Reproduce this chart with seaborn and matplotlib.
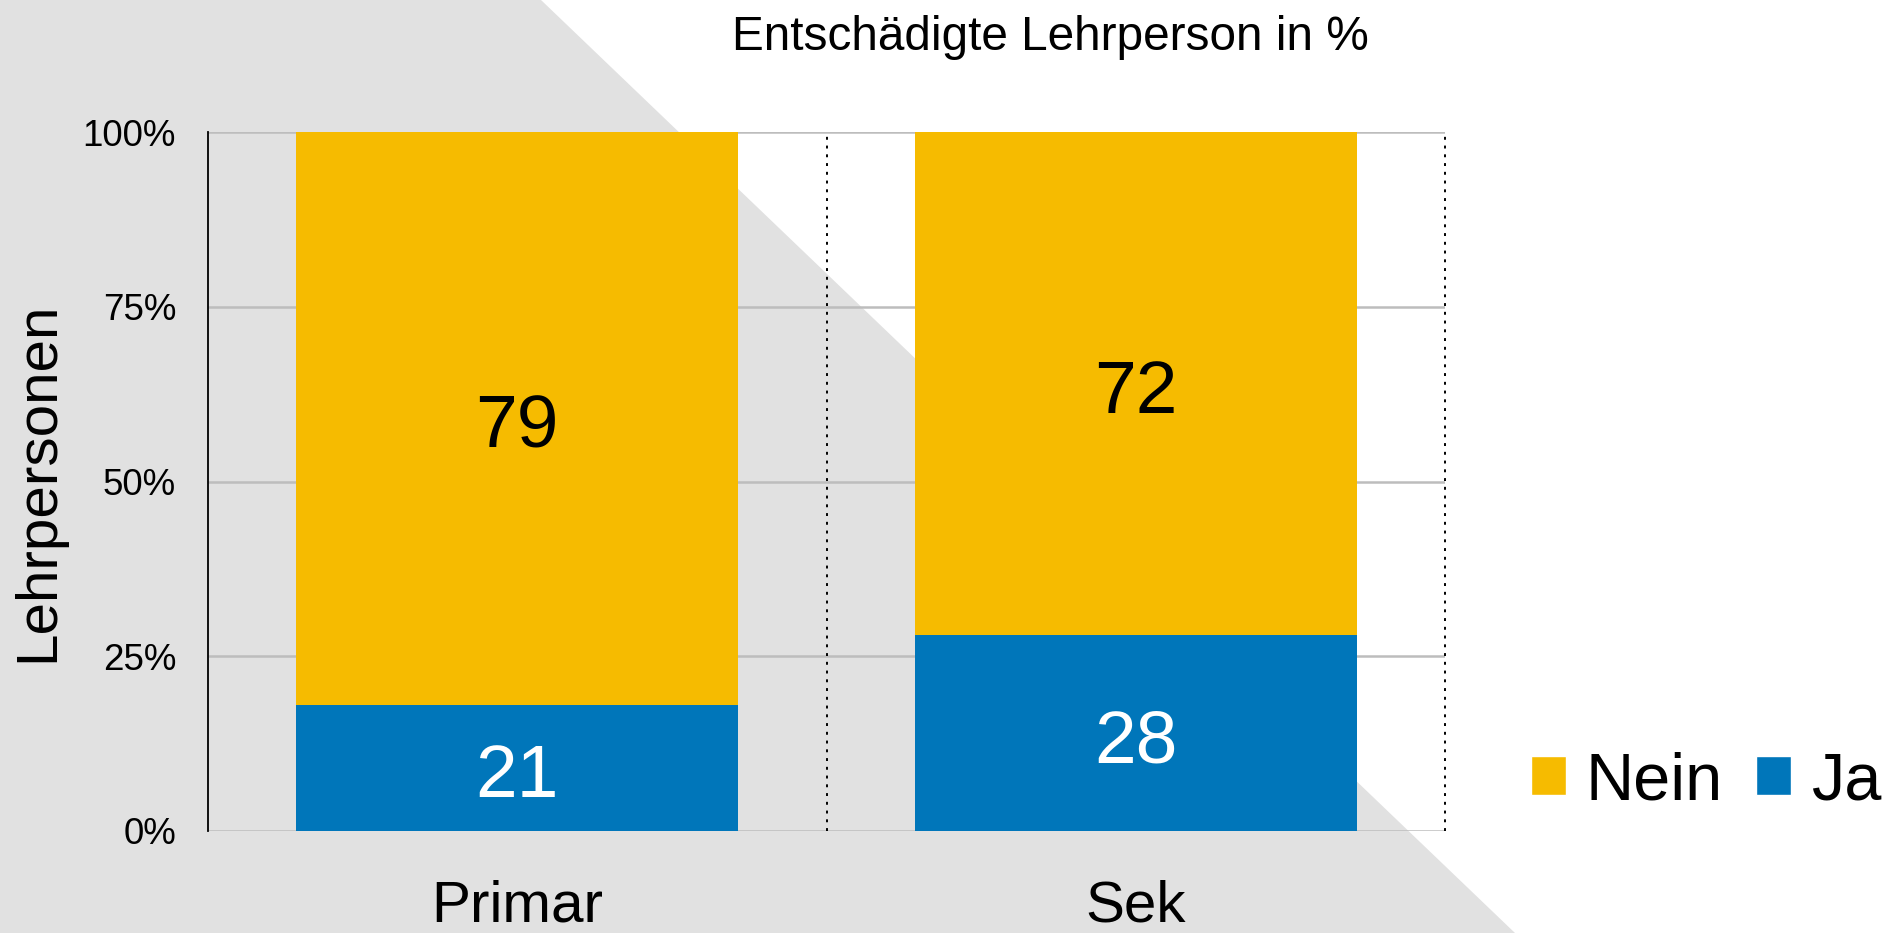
import seaborn as sns
import matplotlib.pyplot as plt
import pandas as pd
from matplotlib.patches import Polygon, Patch
from matplotlib.ticker import FuncFormatter

# data
stufen = ["Primar", "Sek"]
ja_values = [18, 28]          # drawn height of the blue segment
nein_values = [82, 72]        # remainder up to 100 %
ja_labels = ["21", "28"]      # labels as printed in the chart
nein_labels = ["79", "72"]
y_ticks = [0, 25, 50, 75, 100]

yellow = "#F6BB00"
blue = "#0076BA"

sns.set_theme(style="white")
plt.rcParams['font.family'] = ['Liberation Sans', 'DejaVu Sans']
plt.rcParams['text.color'] = 'black'

df = pd.DataFrame({"Stufe": stufen, "Ja": ja_values, "Nein": nein_values})
df["Total"] = df["Ja"] + df["Nein"]

fig = plt.figure(figsize=(18.86, 9.33), dpi=100)
fig.patch.set_facecolor("white")

# grey diagonal background shape (behind the axes)
bg = Polygon([(0, 1), (541 / 1886, 1), (1515 / 1886, 0), (0, 0)],
             closed=True, transform=fig.transFigure, facecolor="#e1e1e1",
             edgecolor="none", zorder=-10)
fig.patches.append(bg)

ax = fig.add_axes([208 / 1886, 1 - 831 / 933, 1237 / 1886, 699 / 933])
ax.set_facecolor("none")
ax.set_zorder(1)

# stacked bars: full height first (Nein), then Ja over it
sns.barplot(data=df, x="Stufe", y="Total", color=yellow, saturation=1,
            width=0.715, errorbar=None, linewidth=0, ax=ax, zorder=2)
sns.barplot(data=df, x="Stufe", y="Ja", color=blue, saturation=1,
            width=0.715, errorbar=None, linewidth=0, ax=ax, zorder=3)

# Nein labels in the middle of the yellow part
for bar, ja, ne, lbl in zip(ax.containers[0], ja_values, nein_values, nein_labels):
    xc = bar.get_x() + bar.get_width() / 2
    ax.annotate(lbl, (xc, ja + ne / 2), xytext=(0, -7), textcoords="offset points",
                ha="center", va="center", fontsize=54, color="black", zorder=4)
ax.bar_label(ax.containers[1], labels=ja_labels, label_type="center",
             padding=-7, fontsize=54, color="white")

ax.set_xlim(-0.5, 1.5)
ax.set_ylim(0, 100)
ax.set_yticks(y_ticks)
ax.yaxis.set_major_formatter(FuncFormatter(lambda v, p: f"{v:.0f}%"))
ax.tick_params(axis="y", length=0, pad=23, labelsize=26.5, labelcolor="black")
ax.tick_params(axis="x", length=0, pad=35, labelsize=42, labelcolor="black")
ax.set_xlabel("")
ax.set_ylabel("Lehrpersonen", fontsize=42, color="black")
ax.yaxis.set_label_coords(-0.115, 0.5)

ax.set_axisbelow(True)
ax.yaxis.grid(True, color="#bdbdbd", linewidth=1.8, zorder=1)
for side in ["top", "right", "bottom"]:
    ax.spines[side].set_visible(False)
ax.spines["left"].set_color("black")
ax.spines["left"].set_linewidth(1.3)

for xv in [0.5, 1.5]:
    ax.axvline(xv, color="black", linewidth=1.4, linestyle=(0, (1.5, 3)),
               clip_on=False, zorder=1.5)

fig.text(1050 / 1886, 1 - 37 / 933, "Entschädigte Lehrperson in %",
         fontsize=34.4, ha="center", va="center", color="black")

handles = [Patch(facecolor=yellow, label="Nein"), Patch(facecolor=blue, label="Ja")]
fig.legend(handles=handles, loc="center left", bbox_to_anchor=(1531 / 1886, 1 - 782 / 933),
           ncol=2, frameon=False, fontsize=48, handlelength=0.52, handleheight=0.52,
           handletextpad=0.3, columnspacing=0.5, borderpad=0, borderaxespad=0)

fig.savefig("out.png", dpi=100)
